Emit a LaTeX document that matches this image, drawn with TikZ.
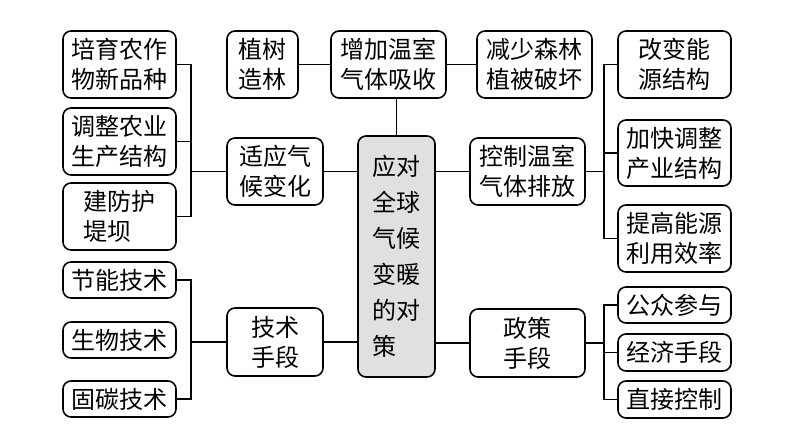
\documentclass[tikz,border=0pt]{standalone}
\usepackage{fontspec}
\setmainfont{Noto Sans CJK SC}
\usetikzlibrary{positioning}
\tikzset{
  box/.style={draw,line width=1.6pt,rounded corners=8pt,inner sep=0pt,
    minimum width=#1,align=center,font=\fontsize{24}{30}\selectfont},
  box/.default=113pt,
  link/.style={line width=1.3pt}
}
\begin{document}
\begin{tikzpicture}[x=1pt,y=-1pt]
\useasboundingbox (0,0) rectangle (794,447);

% Centre
\node[box=77pt,fill=black!12,minimum height=241pt,align=left,
  font=\fontsize{24}{36}\selectfont] (centre) at (396.5,256.5)
  {应对\\全球\\气候\\变暖\\的对\\策};

% Top row
\node[box=71pt,minimum height=67pt] (zhishu) at (262.5,64.5) {植树\\造林};
\node[box=115pt,minimum height=67pt] (zengjia) at (388.5,64.5) {增加温室\\气体吸收};
\node[box=115pt,minimum height=67pt] (jianshao) at (534.5,64.5) {减少森林\\植被破坏};

% Left side
\node[box=96pt,minimum height=67pt] (shiying) at (275,171.5) {适应气\\候变化};
\node[box,minimum height=67pt] (peiyu) at (119.5,64.5) {培育农作\\物新品种};
\node[box,minimum height=67pt] (tiaozheng) at (119.5,141.5) {调整农业\\生产结构};
\node[box,minimum height=67pt,align=left] (jianfang) at (119.5,216.5) {建防护\\堤坝};

\node[box=96pt,minimum height=68pt] (jishu) at (275,342) {技术\\手段};
\node[box,minimum height=36pt] (jieneng) at (119.5,280) {节能技术};
\node[box,minimum height=36pt] (shengwu) at (119.5,340) {生物技术};
\node[box,minimum height=36pt] (gutan) at (119.5,399) {固碳技术};

% Right side
\node[box=115pt,minimum height=67pt] (kongzhi) at (527.5,171.5) {控制温室\\气体排放};
\node[box,minimum height=67pt,align=left] (gaibian) at (674.5,64.5) {改变能\\源结构};
\node[box,minimum height=66pt] (jiakuai) at (674.5,153) {加快调整\\产业结构};
\node[box,minimum height=67pt] (tigao) at (674.5,238.5) {提高能源\\利用效率};

\node[box=115pt,minimum height=68pt] (zhengce) at (527.5,343) {政策\\手段};
\node[box,minimum height=36pt] (gongzhong) at (674.5,305) {公众参与};
\node[box,minimum height=37pt] (jingji) at (674.5,352.5) {经济手段};
\node[box,minimum height=37pt] (zhijie) at (674.5,399.5) {直接控制};

% Bracket positions
\coordinate (lbr) at (191,0);
\coordinate (rbr) at (604,0);

% Links
\draw[link] (zhishu) -- (zengjia);
\draw[link] (zengjia) -- (jianshao);
\draw[link] (centre.north) -- (centre.north |- zengjia.south);
\draw[link] (shiying.east) -- (shiying.east -| centre.west);
\draw[link] (jishu.east) -- (jishu.east -| centre.west);
\draw[link] (kongzhi.west) -- (kongzhi.west -| centre.east);
\draw[link] (zhengce.west) -- (zhengce.west -| centre.east);

\draw[link] (peiyu.east) -- (peiyu.east -| lbr) |- (jianfang.east);
\draw[link] (tiaozheng.east) -- (tiaozheng.east -| lbr);
\draw[link] (shiying.west) -- (shiying.west -| lbr);

\draw[link] (jieneng.east) -- (jieneng.east -| lbr) |- (gutan.east);
\draw[link] (jishu.west) -- (jishu.west -| lbr);

\draw[link] (gaibian.west) -- (gaibian.west -| rbr) |- (tigao.west);
\draw[link] (jiakuai.west) -- (jiakuai.west -| rbr);
\draw[link] (kongzhi.east) -- (kongzhi.east -| rbr);

\draw[link] (gongzhong.west) -- (gongzhong.west -| rbr) |- (zhijie.west);
\draw[link] (jingji.west) -- (jingji.west -| rbr);
\draw[link] (zhengce.east) -- (zhengce.east -| rbr);
\end{tikzpicture}
\end{document}
